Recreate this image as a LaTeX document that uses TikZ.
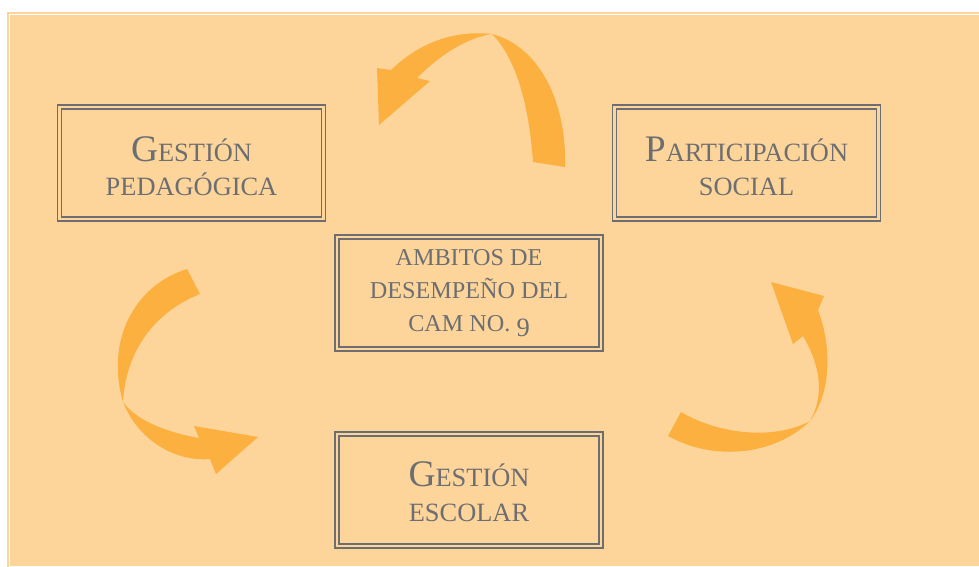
\documentclass[tikz,border=0pt]{standalone}
\usepackage{fontspec}
\setmainfont{Liberation Serif}
\usepackage{tikz}

\definecolor{fondo}{RGB}{253,213,155}
\definecolor{naranja}{RGB}{251,176,64}
\definecolor{gris}{RGB}{109,110,113}

% mayuscula inicial grande, resto en versalitas simuladas
\newcommand{\inicial}[1]{{\fontsize{37.5}{34}\selectfont #1}}
\newcommand{\nueve}{\raisebox{-5pt}{\fontsize{26.5}{33}\selectfont 9}}

\begin{document}
\begin{tikzpicture}[x=1pt, y=-1pt, font=\fontsize{26.4}{34}\selectfont, text=gris,
    ambito/.style = {draw=gris, line width=1.8pt, double=fondo, double distance=2.2pt, minimum width=264pt, minimum height=112pt, inner sep=0pt, align=center},
    flecha/.style = {fill=naranja}]
                \useasboundingbox (0,0) rectangle (979,566);
                \fill[white] (0,0) rectangle (979,566);
                \draw[fondo, line width=1.3pt] (8,590) -- (8,13) -- (1000,13);
                \fill[fondo] (10,15) rectangle (979,566);
                % cuadros
                \node[ambito] (ped) at (191.5,163) {\rule{0pt}{31.4pt}\inicial{G}ESTIÓN\\PEDAGÓGICA};
                \node[ambito] (par) at (746.5,163) {\rule{0pt}{31.4pt}\inicial{P}ARTICIPACIÓN\\SOCIAL};
                \node[ambito, font=\fontsize{24.2}{33}\selectfont] (amb) at (469,293) {\rule{0pt}{17pt}AMBITOS DE\\DESEMPEÑO DEL\\CAM NO. \nueve};
                \node[ambito, font=\fontsize{26.4}{35}\selectfont] (esc) at (469,490) {\rule{0pt}{29pt}\inicial{G}ESTIÓN\\ESCOLAR};
                % flechas
                \fill[flecha] (533,162) .. controls (529,105) and (516,58) .. (492,34)
                    .. controls (466,38) and (440,55) .. (417,78)
                    -- (430,81) -- (379,125) -- (377,68) -- (391,70)
                    .. controls (420,42) and (455,30) .. (492,34)
                    .. controls (538,46) and (567,100) .. (565,167) -- cycle;
                \fill[flecha] (187,269) .. controls (135,285) and (105,340) .. (123,402)
                    .. controls (138,440) and (175,462) .. (210,459)
                    -- (216,474) -- (258,437) -- (194,426) -- (199,438)
                    .. controls (165,432) and (136,420) .. (123,402)
                    .. controls (126,350) and (155,312) .. (200,294) -- cycle;
                \fill[flecha] (681,412) .. controls (720,435) and (775,440) .. (810,421)
                    .. controls (825,395) and (820,365) .. (803,336)
                    -- (793,344) -- (771,282) -- (824,296) -- (818,310)
                    .. controls (833,350) and (830,395) .. (810,421)
                    .. controls (775,455) and (715,462) .. (668,436) -- cycle;
            \end{tikzpicture}
\end{document}
